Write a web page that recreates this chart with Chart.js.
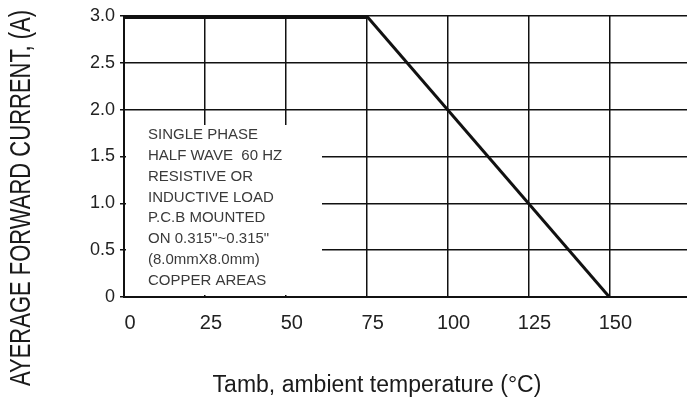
<!DOCTYPE html>
<html>
<head>
<meta charset="utf-8">
<script src="https://cdn.jsdelivr.net/npm/chart.js@4"></script>
<style>
  html, body { margin: 0; padding: 0; background: #fff; overflow: hidden; }
  #wrap { width: 687px; height: 403px; }
</style>
</head>
<body>
<div id="wrap"><canvas id="derating"></canvas></div>
<script>
// data
const temps = [0, 75, 150];
const current = [3.0, 3.0, 0];
const xTicks = [0, 25, 50, 75, 100, 125, 150];
const yTicks = [0, 0.5, 1.0, 1.5, 2.0, 2.5, 3.0];
const noteLines = [
    'SINGLE PHASE',
    'HALF WAVE  60 HZ',
    'RESISTIVE OR',
    'INDUCTIVE LOAD',
    'P.C.B MOUNTED',
    'ON 0.315"~0.315"',
    '(8.0mmX8.0mm)',
    'COPPER AREAS'
];
const yTitle = 'AYERAGE FORWARD CURRENT, (A)';
const xTitle = 'Tamb, ambient temperature (°C)';

document.addEventListener("DOMContentLoaded", function () {
    // white box with the test conditions, drawn over the grid
    const notePlugin = {
        id: 'note',
        beforeDatasetsDraw(chart) {
            const ctx = chart.ctx;
            const a = chart.chartArea;
            ctx.save();
            ctx.fillStyle = '#fff';
            ctx.fillRect(a.left + 2, a.top + 109, 196, a.bottom - a.top - 111);
            ctx.fillStyle = '#3a3a3a';
            ctx.font = '15px "Liberation Sans", Arial, sans-serif';
            ctx.textBaseline = 'middle';
            noteLines.forEach((t, i) => ctx.fillText(t, a.left + 24, a.top + 119 + i * 20.8));
            ctx.restore();
        },
        afterDraw(chart) {
            const ctx = chart.ctx;
            ctx.save();
            ctx.fillStyle = '#1a1a1a';
            ctx.textAlign = 'center';
            ctx.textBaseline = 'middle';
            // y title, a bit stretched like the original
            ctx.font = '22px "Liberation Sans", Arial, sans-serif';
            ctx.translate(22, 198);
            ctx.rotate(-Math.PI / 2);
            ctx.scale(1, 1.3);
            ctx.fillText(yTitle, 0, 0);
            ctx.restore();
            ctx.save();
            ctx.fillStyle = '#1a1a1a';
            ctx.textAlign = 'center';
            ctx.textBaseline = 'middle';
            ctx.font = '23px "Liberation Sans", Arial, sans-serif';
            ctx.fillText(xTitle, 377, 386);
            ctx.restore();
        }
    };

    new Chart(document.getElementById('derating'), {
        type: 'line',
        data: {
            datasets: [{
                data: temps.slice(0, 2).map((t, i) => ({ x: t, y: current[i] })),
                borderColor: '#111',
                borderWidth: 6,
                pointRadius: 0
            }, {
                data: temps.slice(1).map((t, i) => ({ x: t, y: current[i + 1] })),
                borderColor: '#111',
                borderWidth: 3,
                pointRadius: 0
            }]
        },
        options: {
            responsive: true,
            maintainAspectRatio: false,
            animation: false,
            layout: { padding: { top: 16, right: 0, bottom: 0, left: 0 } },
            plugins: {
                legend: { display: false },
                tooltip: { enabled: false }
            },
            scales: {
                x: {
                    type: 'linear',
                    min: 0,
                    max: 174,
                    afterFit(scale) {
                        scale.height = 106;
                        scale.paddingLeft = 0;
                        scale.paddingRight = 0;
                    },
                    afterBuildTicks(scale) { scale.ticks = xTicks.map(v => ({ value: v })); },
                    grid: { color: '#111', lineWidth: 1.5, tickLength: 0 },
                    border: { color: '#111', width: 2 },
                    ticks: {
                        padding: 14,
                        labelOffset: 6,
                        color: '#222',
                        font: { size: 20, family: '"Liberation Sans", Arial, sans-serif' }
                    }
                },
                y: {
                    min: 0,
                    max: 3,
                    afterFit(scale) {
                        scale.width = 124;
                        scale.paddingTop = 0;
                        scale.paddingBottom = 0;
                    },
                    afterBuildTicks(scale) { scale.ticks = yTicks.map(v => ({ value: v })); },
                    grid: { color: '#111', lineWidth: 1.5, tickLength: 4 },
                    border: { color: '#111', width: 2 },
                    ticks: {
                        padding: 5,
                        color: '#222',
                        font: { size: 18, family: '"Liberation Sans", Arial, sans-serif' },
                        callback: v => (v === 0 ? '0' : v.toFixed(1))
                    }
                }
            }
        },
        plugins: [notePlugin]
    });
});
</script>
</body>
</html>
